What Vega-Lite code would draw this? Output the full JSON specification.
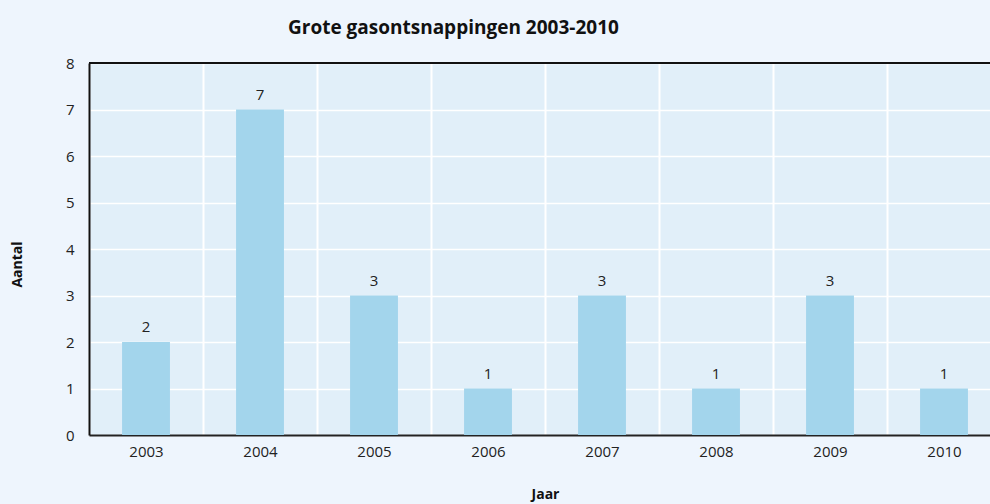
{
  "$schema": "https://vega.github.io/schema/vega-lite/v6.json",
  "autosize": {"type": "none"},
  "width": 901,
  "height": 372,
  "padding": {"left": 89, "top": 63, "right": 0, "bottom": 69},
  "background": "#eef5fd",
  "config": {
    "view": {"fill": "#e1eff9", "stroke": null},
    "font": "Open Sans"
  },
  "title": {
    "text": "Grote gasontsnappingen 2003-2010",
    "anchor": "start",
    "dx": 278,
    "fontSize": 19,
    "fontWeight": "bold",
    "color": "#111111",
    "offset": 18
  },
  "data": {
    "values": [
      {"Jaar": "2003", "Aantal": 2},
      {"Jaar": "2004", "Aantal": 7},
      {"Jaar": "2005", "Aantal": 3},
      {"Jaar": "2006", "Aantal": 1},
      {"Jaar": "2007", "Aantal": 3},
      {"Jaar": "2008", "Aantal": 1},
      {"Jaar": "2009", "Aantal": 3},
      {"Jaar": "2010", "Aantal": 1}
    ]
  },
  "encoding": {
    "x": {
      "field": "Jaar",
      "type": "ordinal",
      "scale": {"range": [0, 912], "paddingInner": 0, "paddingOuter": 0},
      "axis": {
        "title": "Jaar",
        "titleFontSize": 14,
        "titleFontWeight": "bold",
        "titleColor": "#111111",
        "titleX": 456,
        "titleY": 59,
        "titleBaseline": "middle",
        "labelAngle": 0,
        "labelFontSize": 15,
        "labelColor": "#222222",
        "labelPadding": 9,
        "ticks": false,
        "tickBand": "extent",
        "grid": true,
        "gridColor": "#ffffff",
        "gridWidth": 2,
        "gridOpacity": 1,
        "domainColor": "#222222",
        "domainWidth": 2
      }
    },
    "y": {
      "field": "Aantal",
      "type": "quantitative",
      "scale": {"domain": [0, 8], "nice": false},
      "axis": {
        "title": "Aantal",
        "titleFontSize": 14,
        "titleFontWeight": "bold",
        "titleColor": "#111111",
        "titleX": -72,
        "titleY": 201,
        "titleAlign": "center",
        "titleBaseline": "middle",
        "values": [0, 1, 2, 3, 4, 5, 6, 7, 8],
        "labelFontSize": 15,
        "labelColor": "#222222",
        "labelPadding": 15,
        "ticks": false,
        "grid": true,
        "gridColor": "#ffffff",
        "gridWidth": 1.5,
        "gridOpacity": 1,
        "domainColor": "#111111",
        "domainWidth": 2
      }
    }
  },
  "layer": [
    {
      "mark": {"type": "bar", "color": "#a3d5ec", "width": {"band": 0.42}}
    },
    {
      "mark": {"type": "text", "baseline": "bottom", "dy": -7, "fontSize": 15, "color": "#222222"},
      "encoding": {"text": {"field": "Aantal", "type": "quantitative"}}
    },
    {
      "mark": {"type": "rule", "color": "#111111", "strokeWidth": 2},
      "encoding": {"x": null, "y": {"datum": 8}}
    }
  ]
}
